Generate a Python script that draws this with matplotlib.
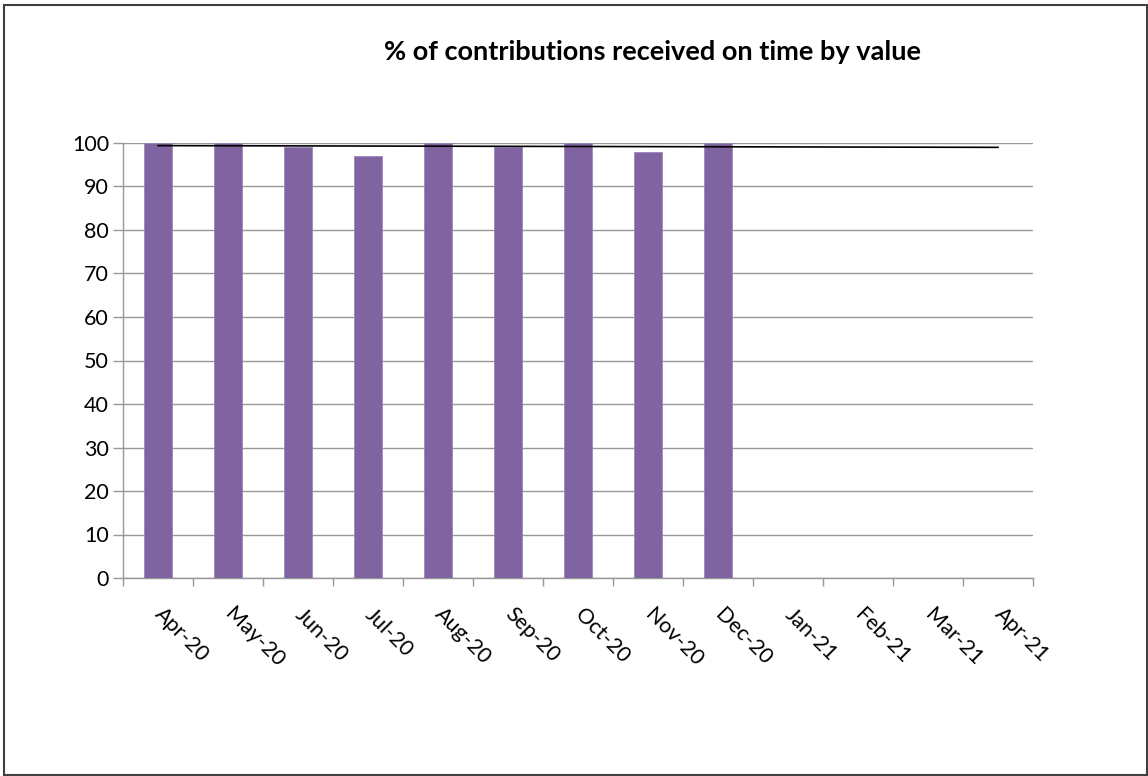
import matplotlib.pyplot as plt
from matplotlib.patches import Rectangle

months = ['Apr-20', 'May-20', 'Jun-20', 'Jul-20', 'Aug-20', 'Sep-20', 'Oct-20',
          'Nov-20', 'Dec-20', 'Jan-21', 'Feb-21', 'Mar-21', 'Apr-21']
on_time = [100, 100, 99, 97, 100, 99, 100, 98, 100]
trend = [99.4, 99.0]  # trendline at first and last month

plt.rcParams['font.family'] = ['Lato', 'DejaVu Sans']

W, H = 1148, 776
fig = plt.figure(figsize=(W / 100, H / 100), dpi=100)
ax = fig.add_axes([123 / W, 1 - 578 / H, 910 / W, 435 / H])

grey = '#989898'
x = list(range(len(months)))
ax.bar(x[:len(on_time)], on_time, width=0.4, color='#8064A2',
       edgecolor='#9b86b8', linewidth=0.6, zorder=3)
ax.plot([x[0], x[-1]], trend, color='black', linewidth=1.2, zorder=4)

ax.set_xlim(-0.5, len(months) - 0.5)
ax.set_ylim(0, 100)
ax.set_yticks(range(0, 101, 10))
ax.yaxis.grid(True, color=grey, linewidth=1)
ax.set_axisbelow(True)

ax.set_xticks(x)
ax.set_xticklabels(months, rotation=-45, ha='left', va='center',
                   rotation_mode='anchor')
ax.set_xticks([i - 0.5 for i in range(len(months) + 1)], minor=True)
ax.tick_params(axis='x', which='major', length=0, pad=24, labelsize=15.5)
ax.tick_params(axis='x', which='minor', length=6, color=grey, width=1)
ax.tick_params(axis='y', length=7, color=grey, width=1, labelsize=15.5, pad=3)

for s in ['top', 'right']:
    ax.spines[s].set_visible(False)
for s in ['left', 'bottom']:
    ax.spines[s].set_color(grey)
    ax.spines[s].set_linewidth(1)

fig.text(652 / W, 1 - 52 / H, '% of contributions received on time by value',
         ha='center', va='center', fontsize=19.5, fontweight='bold')

fig.patches.append(Rectangle((3.5 / W, 1.5 / H), (W - 5) / W, (H - 6) / H,
                             transform=fig.transFigure, fill=False,
                             edgecolor='#404040', linewidth=1.5))

fig.savefig('out.png', dpi=100)
